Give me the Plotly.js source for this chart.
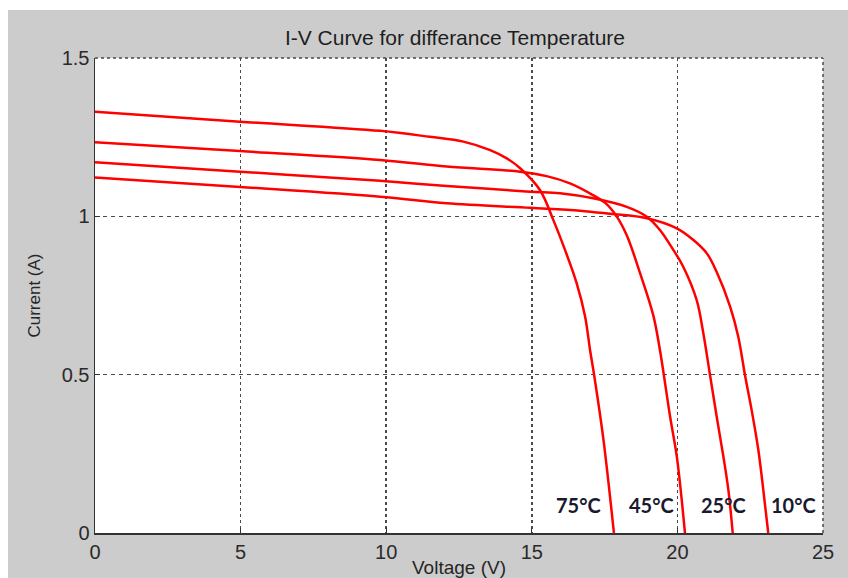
<!DOCTYPE html>
<html>
<head>
<meta charset="utf-8">
<script src="https://cdn.plot.ly/plotly-3.0.1.min.js"></script>
<style>
  html, body { margin: 0; padding: 0; background: #ffffff; width: 848px; height: 578px; overflow: hidden; }
  #chart { position: absolute; left: 8px; top: 10px; width: 840px; height: 568px; }
</style>
</head>
<body>
<div id="chart"></div>
<script>
// Data
const seriesNames = ["75°C", "45°C", "25°C", "10°C"];

const v75 = [0, 4.98, 9.79, 11.50, 12.65, 13.57, 14.14, 14.60, 15.28, 15.74, 16.14, 16.54, 16.83, 17.00, 17.14, 17.46, 17.82];
const i75 = [1.330, 1.299, 1.270, 1.251, 1.236, 1.209, 1.183, 1.152, 1.083, 0.988, 0.894, 0.789, 0.684, 0.578, 0.499, 0.295, 0];

const v45 = [0, 4.98, 9.79, 12.08, 14.60, 15.51, 16.31, 17.10, 17.55, 17.92, 18.26, 18.72, 19.17, 19.40, 19.75, 19.98, 20.26];
const i45 = [1.234, 1.206, 1.178, 1.157, 1.141, 1.127, 1.104, 1.067, 1.040, 0.999, 0.940, 0.820, 0.688, 0.578, 0.367, 0.241, 0];

const v25 = [0, 4.98, 9.79, 12.08, 14.94, 15.97, 17.11, 18.26, 18.95, 19.40, 19.86, 20.20, 20.66, 20.89, 21.12, 21.35, 21.58, 21.75, 21.90];
const i25 = [1.1705, 1.141, 1.112, 1.096, 1.078, 1.073, 1.057, 1.030, 0.999, 0.957, 0.894, 0.841, 0.736, 0.631, 0.499, 0.367, 0.241, 0.136, 0];

const v10 = [0, 4.98, 9.79, 12.08, 14.94, 16.66, 17.69, 18.95, 19.98, 20.55, 21.01, 21.35, 21.81, 22.09, 22.32, 22.55, 22.78, 22.95, 23.12];
const i10 = [1.123, 1.093, 1.062, 1.041, 1.027, 1.018, 1.008, 0.994, 0.962, 0.925, 0.883, 0.824, 0.715, 0.620, 0.499, 0.388, 0.262, 0.136, 0];

const labelX = [16.62, 19.12, 21.60, 24.00];
const labelY = 0.088;

const xTicks = [0, 5, 10, 15, 20, 25];
const yTicks = [0, 0.5, 1, 1.5];
const yTickText = ["0", "0.5", "1", "1.5"];

const curvesV = [v75, v45, v25, v10];
const curvesI = [i75, i45, i25, i10];

const traces = curvesV.map((v, k) => ({
  x: v, y: curvesI[k], type: "scatter", mode: "lines", name: seriesNames[k],
  line: { color: "#ff0000", width: 2.5, shape: "spline", smoothing: 1.0 },
  hoverinfo: "skip"
}));

const fam = "Liberation Sans, Arial, Helvetica, sans-serif";
const tickFont = { family: fam, size: 20, color: "#2a2a2a" };

const layout = {
  width: 840, height: 568,
  paper_bgcolor: "#cccccc", plot_bgcolor: "#ffffff",
  margin: { l: 87, r: 25, t: 48, b: 45 },
  showlegend: false,
  title: {
    text: "I-V Curve for differance Temperature",
    font: { family: fam, size: 21, color: "#1e1e1e" },
    x: 0.4945, xanchor: "center", y: 1 - 28/568, yanchor: "middle", xref: "paper"
  },
  xaxis: {
    range: [0, 25], tickvals: xTicks, ticktext: xTicks.map(String),
    ticks: "inside", ticklen: 5, tickcolor: "#333333", tickwidth: 1,
    showline: true, linecolor: "#333333", linewidth: 1.5,
    showgrid: true, gridcolor: "#4a4a4a", gridwidth: 1.5, griddash: "dot",
    zeroline: false, tickfont: tickFont,
    title: { text: "Voltage (V)", font: { family: fam, size: 19, color: "#262626" }, standoff: 2 }
  },
  yaxis: {
    range: [0, 1.5], tickvals: yTicks, ticktext: yTickText,
    ticks: "inside", ticklen: 5, tickcolor: "#333333", tickwidth: 1,
    showline: true, linecolor: "#333333", linewidth: 1.5,
    showgrid: true, gridcolor: "#4a4a4a", gridwidth: 1.5, griddash: "4px,4px",
    zeroline: false, tickfont: tickFont,
    title: { text: "Current (A)", font: { family: fam, size: 17, color: "#262626" }, standoff: 16 }
  },
  xaxis2: {
    overlaying: "x", matches: "x", side: "top", range: [0, 25], tickvals: xTicks,
    ticks: "inside", ticklen: 5, tickcolor: "#333333", showticklabels: false,
    showgrid: false, showline: false, zeroline: false
  },
  yaxis2: {
    overlaying: "y", matches: "y", side: "right", range: [0, 1.5], tickvals: yTicks,
    ticks: "inside", ticklen: 5, tickcolor: "#333333", showticklabels: false,
    showgrid: false, showline: false, zeroline: false
  },
  shapes: [
    { type: "line", xref: "paper", yref: "paper", x0: 0, x1: 1, y0: 1, y1: 1, line: { color: "#4a4a4a", width: 1.5, dash: "dot" } },
    { type: "line", xref: "paper", yref: "paper", x0: 1, x1: 1, y0: 0, y1: 1, line: { color: "#4a4a4a", width: 1.5, dash: "dot" } }
  ],
  annotations: seriesNames.map((s, k) => ({
    x: labelX[k], y: labelY, xref: "x", yref: "y", text: "<b>" + s + "</b>", showarrow: false,
    font: { family: "Lato, Open Sans, sans-serif", size: 20, color: "#1a1a2e" },
    xanchor: "center", yanchor: "middle"
  }))
};

Plotly.newPlot("chart", traces, layout, { displayModeBar: false, staticPlot: true });
</script>
</body>
</html>
